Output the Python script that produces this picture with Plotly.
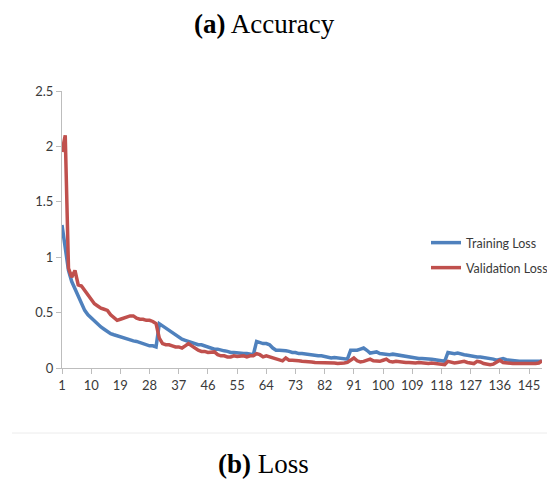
import plotly.graph_objects as go

epochs = list(range(1, 150))

training_loss = [
    1.29, 1.07, 0.88, 0.78, 0.71, 0.64, 0.57, 0.52, 0.48, 0.45,
    0.43, 0.40, 0.37, 0.35, 0.33, 0.31, 0.30, 0.29, 0.28, 0.27,
    0.26, 0.25, 0.245, 0.24, 0.23, 0.22, 0.21, 0.20, 0.20, 0.19,
    0.40, 0.38, 0.36, 0.34, 0.32, 0.30, 0.28, 0.26, 0.25, 0.24,
    0.23, 0.22, 0.21, 0.21, 0.20, 0.19, 0.18, 0.17, 0.17, 0.16,
    0.155, 0.15, 0.14, 0.14, 0.135, 0.13, 0.13, 0.13, 0.125, 0.12,
    0.24, 0.23, 0.22, 0.22, 0.21, 0.18, 0.16, 0.16, 0.16, 0.155,
    0.15, 0.14, 0.14, 0.13, 0.13, 0.125, 0.12, 0.12, 0.115, 0.11,
    0.11, 0.105, 0.095, 0.09, 0.095, 0.09, 0.085, 0.085, 0.08, 0.16,
    0.16, 0.16, 0.17, 0.18, 0.16, 0.135, 0.14, 0.145, 0.13, 0.125,
    0.12, 0.12, 0.125, 0.12, 0.11, 0.105, 0.10, 0.095, 0.09, 0.09,
    0.085, 0.085, 0.085, 0.085, 0.08, 0.075, 0.07, 0.07, 0.06, 0.14,
    0.135, 0.13, 0.135, 0.125, 0.12, 0.115, 0.11, 0.10, 0.10, 0.10,
    0.095, 0.095, 0.085, 0.08, 0.07, 0.075, 0.085, 0.075, 0.07, 0.065,
    0.06, 0.06, 0.06, 0.06, 0.06, 0.06, 0.055, 0.06, 0.06,
]

validation_loss = [
    1.95, 2.10, 0.90, 0.82, 0.88, 0.75, 0.74, 0.70, 0.66, 0.62,
    0.58, 0.56, 0.54, 0.53, 0.52, 0.48, 0.45, 0.43, 0.44, 0.45,
    0.46, 0.47, 0.47, 0.45, 0.44, 0.44, 0.43, 0.43, 0.42, 0.40,
    0.27, 0.22, 0.21, 0.21, 0.20, 0.19, 0.19, 0.18, 0.20, 0.22,
    0.20, 0.18, 0.16, 0.15, 0.15, 0.14, 0.14, 0.145, 0.12, 0.11,
    0.11, 0.10, 0.10, 0.11, 0.105, 0.11, 0.11, 0.10, 0.11, 0.11,
    0.13, 0.12, 0.10, 0.11, 0.10, 0.09, 0.08, 0.07, 0.065, 0.09,
    0.07, 0.07, 0.07, 0.065, 0.06, 0.06, 0.055, 0.055, 0.05, 0.05,
    0.05, 0.05, 0.045, 0.045, 0.045, 0.04, 0.04, 0.045, 0.05, 0.07,
    0.09, 0.065, 0.055, 0.06, 0.07, 0.08, 0.065, 0.06, 0.06, 0.07,
    0.08, 0.06, 0.055, 0.06, 0.055, 0.05, 0.05, 0.05, 0.045, 0.045,
    0.05, 0.045, 0.045, 0.04, 0.045, 0.04, 0.04, 0.035, 0.03, 0.06,
    0.055, 0.045, 0.05, 0.055, 0.06, 0.05, 0.045, 0.04, 0.06, 0.055,
    0.04, 0.035, 0.03, 0.035, 0.05, 0.07, 0.05, 0.045, 0.045, 0.04,
    0.04, 0.04, 0.04, 0.04, 0.035, 0.04, 0.04, 0.045, 0.065,
]

x_tick_vals = list(range(1, 150, 9))
x_tick_text = [str(v) for v in x_tick_vals]
y_tick_vals = [0, 0.5, 1, 1.5, 2, 2.5]
y_tick_text = ["0", "0.5", "1", "1.5", "2", "2.5"]

FONT = "Lato"
AXIS_COLOR = "#bdbdbd"
TEXT_COLOR = "#3a3a3a"

# page offset of 8px (default body margin); plot area in page px: x 62..542, y 91..368
PW, PH = 480, 277


def px_x(x):
    return (x - 62) / PW


def px_y(y):
    return (368 - y) / PH


fig = go.Figure()
fig.add_trace(go.Scatter(
    x=epochs, y=training_loss, mode="lines", name="Training Loss",
    line=dict(color="#4F81BD", width=3.5), legend="legend",
))
fig.add_trace(go.Scatter(
    x=epochs, y=validation_loss, mode="lines", name="Validation Loss",
    line=dict(color="#C0504D", width=3.5), legend="legend2",
))

legend_common = dict(
    font=dict(family=FONT, size=12.5, color=TEXT_COLOR),
    bgcolor="rgba(0,0,0,0)", borderwidth=0,
    xanchor="left", yanchor="middle", itemwidth=30,
)
fig.update_layout(
    width=547, height=473, autosize=False,
    margin=dict(l=54, r=13, t=83, b=113, autoexpand=False),
    paper_bgcolor="white", plot_bgcolor="white",
    showlegend=True,
    legend=dict(x=px_x(426), y=px_y(243), **legend_common),
    legend2=dict(x=px_x(426), y=px_y(268), **legend_common),
    xaxis=dict(
        range=[1, 149], tickmode="array", tickvals=x_tick_vals, ticktext=x_tick_text,
        showgrid=False, zeroline=False, showline=True, linecolor=AXIS_COLOR, linewidth=1,
        ticks="outside", ticklen=5, tickcolor=AXIS_COLOR,
        tickfont=dict(family=FONT, size=13, color=TEXT_COLOR),
    ),
    yaxis=dict(
        range=[0, 2.5], tickmode="array", tickvals=y_tick_vals, ticktext=y_tick_text,
        showgrid=False, zeroline=False, showline=True, linecolor=AXIS_COLOR, linewidth=1,
        ticks="outside", ticklen=5, tickcolor=AXIS_COLOR,
        tickfont=dict(family=FONT, size=13, color=TEXT_COLOR),
    ),
    annotations=[
        dict(text="<b>(a)</b> Accuracy", xref="paper", yref="paper",
             x=px_x(264), y=px_y(7), xanchor="center", yanchor="top",
             showarrow=False, font=dict(family="Liberation Serif", size=27, color="black")),
        dict(text="<b>(b)</b> Loss", xref="paper", yref="paper",
             x=px_x(263), y=px_y(481), xanchor="center", yanchor="bottom",
             showarrow=False, font=dict(family="Liberation Serif", size=27, color="black")),
    ],
    shapes=[
        dict(type="line", xref="paper", yref="paper",
             x0=px_x(12), x1=px_x(555),
             y0=px_y(433), y1=px_y(433),
             line=dict(color="#ececec", width=1)),
    ],
)

fig.write_html("out.html", config={"responsive": False})
